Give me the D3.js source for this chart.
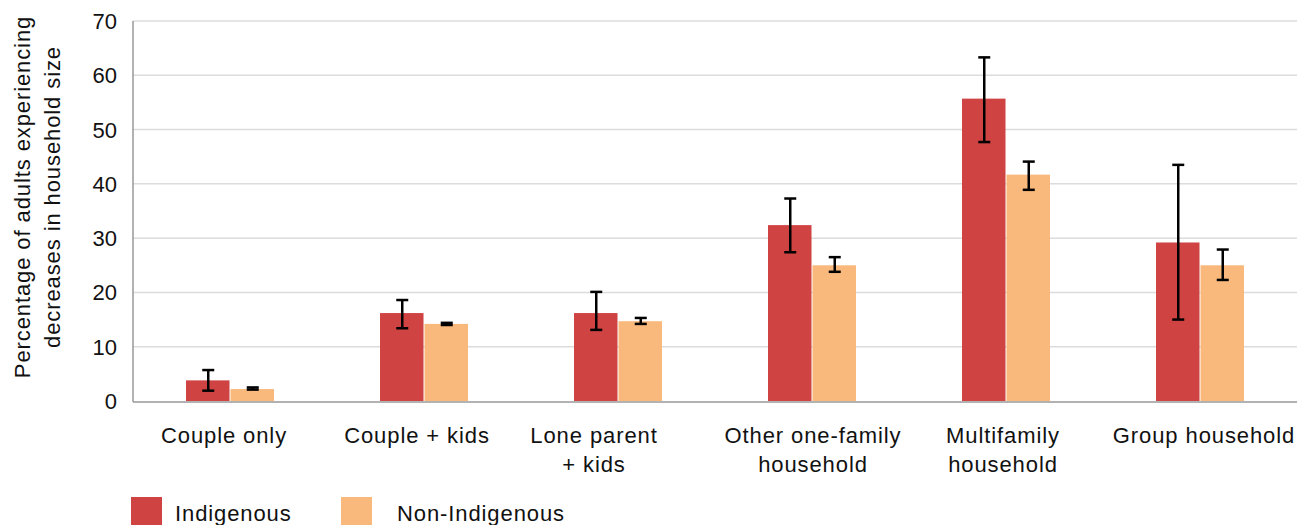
<!DOCTYPE html>
<html>
<head>
<meta charset="utf-8">
<script src="https://cdn.jsdelivr.net/npm/d3@7"></script>
<style>
  body { margin: 0; background: #fff; }
  text { font-family: "Liberation Sans", Arial, sans-serif; fill: #111; }
</style>
</head>
<body>
<script>
var w = 1302;
var h = 525;

var categories = [["Couple only"], ["Couple + kids"], ["Lone parent", "+ kids"],
  ["Other one-family", "household"], ["Multifamily", "household"], ["Group household"]];
var seriesNames = ["Indigenous", "Non-Indigenous"];
var colors = ["#d04343", "#f9b97c"];

var indigenous = [3.8, 16.2, 16.2, 32.4, 55.7, 29.2];
var indigenousLow = [1.9, 13.4, 13.1, 27.4, 47.7, 15.0];
var indigenousHigh = [5.7, 18.6, 20.1, 37.3, 63.3, 43.5];

var nonIndigenous = [2.2, 14.2, 14.7, 25.0, 41.7, 25.0];
var nonIndigenousLow = [2.1, 14.0, 14.2, 23.8, 38.9, 22.3];
var nonIndigenousHigh = [2.5, 14.4, 15.3, 26.5, 44.1, 27.9];

var yTicks = [0, 10, 20, 30, 40, 50, 60, 70];

// small horizontal nudges of the category labels
var labelShift = [-6, -7, -24, 1, -3, 4];

var margin = {left: 133, right: 5, top: 21, bottom: 124};

var svg = d3.select("body").append("svg")
    .attr("width", w)
    .attr("height", h);

var x0 = d3.scaleBand()
    .domain(d3.range(categories.length))
    .range([margin.left, w - margin.right]);

var x1 = d3.scaleBand()
    .domain([0, 1])
    .range([0, 89]);

var y = d3.scaleLinear()
    .domain([0, 70])
    .range([h - margin.bottom, margin.top]);

// gridlines
svg.append("g").selectAll("line")
    .data(yTicks.slice(1))
    .join("line")
    .attr("x1", margin.left)
    .attr("x2", w - margin.right)
    .attr("y1", d => y(d))
    .attr("y2", d => y(d))
    .attr("stroke", "#dcdcdc")
    .attr("stroke-width", 1.5);

// y tick labels
svg.append("g").selectAll("text")
    .data(yTicks)
    .join("text")
    .attr("x", 117)
    .attr("y", d => y(d) + 8)
    .attr("text-anchor", "end")
    .style("font-size", "22px")
    .text(d => d);

// y title
var yTitle = svg.append("text")
    .attr("transform", "translate(30," + 197 + ")rotate(-90)")
    .attr("text-anchor", "middle")
    .style("font-size", "22px")
    .style("letter-spacing", "0.9px");
yTitle.append("tspan").attr("x", 0).attr("dy", 0).text("Percentage of adults experiencing");
yTitle.append("tspan").attr("x", 0).attr("dy", 30).text("decreases in household size");

var series = [
  {vals: indigenous, lo: indigenousLow, hi: indigenousHigh},
  {vals: nonIndigenous, lo: nonIndigenousLow, hi: nonIndigenousHigh}
];

series.forEach(function(s, si) {
  var g = svg.append("g");
  g.selectAll("rect")
    .data(s.vals)
    .join("rect")
    .attr("x", (d, i) => x0(i) + x0.bandwidth() / 2 - 44 + x1(si))
    .attr("width", x1.bandwidth() - 1)
    .attr("y", d => y(d))
    .attr("height", d => y(0) - y(d))
    .attr("fill", colors[si]);
});

// axes lines
svg.append("line")
    .attr("x1", margin.left).attr("x2", margin.left)
    .attr("y1", y(70)).attr("y2", y(0) + 1)
    .attr("stroke", "#999").attr("stroke-width", 1.5);
svg.append("line")
    .attr("x1", margin.left).attr("x2", w - margin.right)
    .attr("y1", y(0) + 1).attr("y2", y(0) + 1)
    .attr("stroke", "#999").attr("stroke-width", 1.5);

// error bars
series.forEach(function(s, si) {
  var g = svg.append("g").attr("stroke", "#000").attr("stroke-width", 2.5);
  s.vals.forEach(function(v, i) {
    var cx = x0(i) + x0.bandwidth() / 2 - 44 + x1(si) + x1.bandwidth() / 2;
    g.append("line").attr("x1", cx).attr("x2", cx).attr("y1", y(s.lo[i])).attr("y2", y(s.hi[i]));
    g.append("line").attr("x1", cx - 6).attr("x2", cx + 6).attr("y1", y(s.lo[i])).attr("y2", y(s.lo[i]));
    g.append("line").attr("x1", cx - 6).attr("x2", cx + 6).attr("y1", y(s.hi[i])).attr("y2", y(s.hi[i]));
  });
});

// x labels
categories.forEach(function(lines, i) {
  var cx = x0(i) + x0.bandwidth() / 2 + labelShift[i];
  var t = svg.append("text")
    .attr("y", 443)
    .attr("text-anchor", "middle")
    .style("font-size", "22px")
    .style("letter-spacing", "0.9px");
  lines.forEach(function(l, j) {
    t.append("tspan").attr("x", cx).attr("dy", j ? 29 : 0).text(l);
  });
});

// legend
var legX = [131, 341];
var legTextX = [175, 397];
seriesNames.forEach(function(n, i) {
  svg.append("rect")
    .attr("x", legX[i]).attr("y", 497)
    .attr("width", 31).attr("height", 30)
    .attr("fill", colors[i]);
  svg.append("text")
    .attr("x", legTextX[i]).attr("y", 521)
    .style("font-size", "22px")
    .style("letter-spacing", "0.9px")
    .text(n);
});
</script>
</body>
</html>
